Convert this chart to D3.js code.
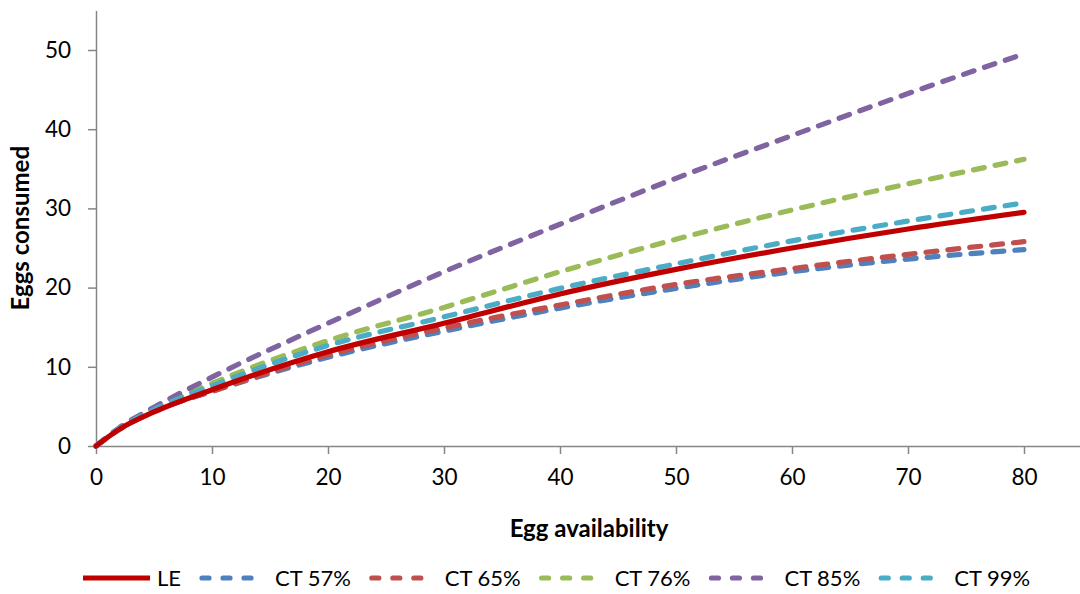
<!DOCTYPE html>
<html>
<head>
<meta charset="utf-8">
<script src="https://cdn.jsdelivr.net/npm/d3@7"></script>
<style>
  html, body { margin: 0; padding: 0; background: #fff; }
  svg { display: block; }
  text { font-family: Lato, "Liberation Sans", sans-serif; fill: #000; }
</style>
</head>
<body>
<svg id="chart" width="1080" height="594"></svg>
<script>
// Egg availability (x) at which each response curve is sampled
const availability = [0, 2, 5, 10, 20, 30, 40, 50, 60, 70, 80];

// Eggs consumed per series
const seriesNames = ["LE", "CT 57%", "CT 65%", "CT 76%", "CT 85%", "CT 99%"];
const LE    = [0, 2.1, 4.3, 7.1, 11.9, 15.5, 19.2, 22.3, 25.0, 27.4, 29.5];
const CT57  = [0, 2.1, 4.4, 6.9, 11.2, 14.5, 17.4, 19.9, 22.0, 23.6, 24.8];
const CT65  = [0, 2.1, 4.4, 6.9, 11.5, 14.9, 17.8, 20.4, 22.4, 24.2, 25.8];
const CT76  = [0, 2.2, 4.6, 7.9, 13.3, 17.5, 22.0, 26.1, 29.8, 33.1, 36.2];
const CT85  = [0, 2.3, 4.9, 8.7, 15.5, 22.0, 28.0, 33.8, 39.2, 44.5, 49.5];
const CT99  = [0, 2.2, 4.6, 7.6, 12.7, 16.3, 19.9, 23.0, 25.9, 28.4, 30.7];

const xTicks = [0, 10, 20, 30, 40, 50, 60, 70, 80];
const yTicks = [0, 10, 20, 30, 40, 50];

const seriesValues = [LE, CT57, CT65, CT76, CT85, CT99];
const colors = ["#C00000", "#4F81BD", "#C0504D", "#9BBB59", "#8064A2", "#4BACC6"];
const dashed = [false, true, true, true, true, true];

const svg = d3.select("#chart");
const axisColor = "#868686";

const x = d3.scaleLinear().domain([0, 85]).range([96, 1082]);
const y = d3.scaleLinear().domain([0, 55]).range([446, 10.4]);

// Axes
const xAxis = svg.append("g")
  .attr("transform", `translate(0,${y(0)})`)
  .call(d3.axisBottom(x).tickValues(xTicks).tickSize(8).tickPadding(15).tickSizeOuter(0));
const yAxis = svg.append("g")
  .attr("transform", `translate(${x(0)},0)`)
  .call(d3.axisLeft(y).tickValues(yTicks).tickSize(8).tickPadding(17).tickSizeOuter(0));

[xAxis, yAxis].forEach(g => {
  g.select(".domain").attr("stroke", axisColor).attr("stroke-width", 1.5);
  g.selectAll(".tick line").attr("stroke", axisColor).attr("stroke-width", 1.5);
  g.selectAll(".tick text")
    .attr("fill", "#000")
    .style("font-family", "Lato, 'Liberation Sans', sans-serif")
    .style("font-size", "22.5px");
});

// Axis titles
svg.append("text")
  .attr("x", (x.range()[0] + x.range()[1]) / 2)
  .attr("y", 537)
  .attr("text-anchor", "middle")
  .style("font-size", "24px")
  .style("font-weight", "bold")
  .text("Egg availability");

svg.append("text")
  .attr("transform", `translate(29,${(y(0) + y(55)) / 2}) rotate(-90)`)
  .attr("text-anchor", "middle")
  .style("font-size", "24px")
  .style("font-weight", "bold")
  .text("Eggs consumed");

// Curves
const line = d3.line()
  .x((d, i) => x(availability[i]))
  .y(d => y(d))
  .curve(d3.curveMonotoneX);

const drawOrder = [1, 2, 3, 4, 5, 0];
drawOrder.forEach(k => {
  svg.append("path")
    .datum(seriesValues[k])
    .attr("d", line)
    .attr("fill", "none")
    .attr("stroke", colors[k])
    .attr("stroke-width", 5.2)
    .attr("stroke-linecap", "round")
    .attr("stroke-dasharray", dashed[k] ? "11,11" : null);
});

// Legend
const legend = svg.append("g");
let lx = 83;
const ly = 578;
seriesNames.forEach((name, k) => {
  const len = k === 0 ? 67 : 59;
  legend.append("line")
    .attr("x1", lx).attr("x2", lx + len)
    .attr("y1", ly).attr("y2", ly)
    .attr("stroke", colors[k])
    .attr("stroke-width", 5.2)
    .attr("stroke-linecap", dashed[k] ? "round" : "butt")
    .attr("stroke-dasharray", dashed[k] ? "7,14" : null)
    .attr("transform", dashed[k] ? "translate(3,0)" : null);
  const gap = k === 0 ? 7 : 17;
  const t = legend.append("text")
    .attr("x", lx + len + gap)
    .attr("y", ly + 8)
    .style("font-size", "22px")
    .text(name);
  const w = t.node().getComputedTextLength();
  lx = lx + len + gap + w + 18;
});
</script>
</body>
</html>
